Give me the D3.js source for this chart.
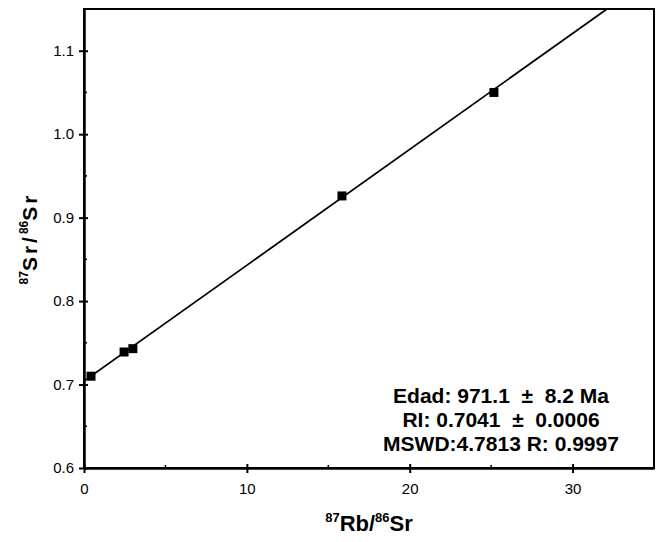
<!DOCTYPE html>
<html>
<head>
<meta charset="utf-8">
<script src="https://cdn.jsdelivr.net/npm/d3@7"></script>
<style>
  html, body { margin: 0; padding: 0; background: #fff; }
  svg { display: block; font-family: "Liberation Sans", Arial, sans-serif; }
</style>
</head>
<body>
<div id="chart"></div>
<script>
// Rb-Sr isochron data
const rbSr = [0.43, 2.46, 3.0, 15.84, 25.17];
const srSr = [0.710, 0.739, 0.743, 0.926, 1.050];

const xTicks = [0, 10, 20, 30];
const xMinor = [5, 15, 25];
const yTicks = [0.6, 0.7, 0.8, 0.9, 1.0, 1.1];
const yMinor = [0.65, 0.75, 0.85, 0.95, 1.05];

// regression line (initial ratio + slope from age)
const intercept = 0.7041;
const slope = 0.013885;

const infoLines = [
  'Edad: 971.1  \u00b1  8.2 Ma',
  'RI: 0.7041  \u00b1  0.0006',
  'MSWD:4.7813 R: 0.9997'
];

const width = 658, height = 542;
const margin = { top: 9, right: 4, bottom: 74, left: 84 };

const svg = d3.select('#chart').append('svg')
  .attr('width', width)
  .attr('height', height);

const x = d3.scaleLinear().domain([0, 35]).range([margin.left, width - margin.right]);
const y = d3.scaleLinear().domain([0.6, 1.15]).range([height - margin.bottom, margin.top]);

svg.append('clipPath').attr('id', 'plot-clip')
  .append('rect')
  .attr('x', x(0)).attr('y', y(1.15))
  .attr('width', x(35) - x(0)).attr('height', y(0.6) - y(1.15));

// Frame (top / right)
svg.append('rect')
  .attr('x', x(0)).attr('y', y(1.15))
  .attr('width', x(35) - x(0)).attr('height', y(0.6) - y(1.15))
  .attr('fill', 'none').attr('stroke', '#000').attr('stroke-width', 2);

// Axes
const xAxis = svg.append('g')
  .attr('transform', `translate(0,${y(0.6)})`)
  .call(d3.axisBottom(x).tickValues(xTicks).tickFormat(d3.format('d')).tickSizeInner(5).tickSizeOuter(0).tickPadding(10));
xAxis.select('.domain').attr('stroke-width', 2.5);
xAxis.selectAll('.tick line').attr('y1', -4).attr('stroke-width', 2);
xAxis.selectAll('.tick text').attr('font-size', 15).attr('fill', '#000');

svg.append('g').selectAll('line').data(xMinor).join('line')
  .attr('x1', d => x(d)).attr('x2', d => x(d))
  .attr('y1', y(0.6) - 3).attr('y2', y(0.6))
  .attr('stroke', '#000').attr('stroke-width', 1.5);

const yAxis = svg.append('g')
  .attr('transform', `translate(${x(0)},0)`)
  .call(d3.axisLeft(y).tickValues(yTicks).tickFormat(d3.format('.1f')).tickSizeInner(5).tickSizeOuter(0).tickPadding(5));
yAxis.select('.domain').attr('stroke-width', 2.5);
yAxis.selectAll('.tick line').attr('x1', 4).attr('stroke-width', 2);
yAxis.selectAll('.tick text').attr('font-size', 15).attr('fill', '#000');

svg.append('g').selectAll('line').data(yMinor).join('line')
  .attr('x1', x(0)).attr('x2', x(0) + 3)
  .attr('y1', d => y(d)).attr('y2', d => y(d))
  .attr('stroke', '#000').attr('stroke-width', 1.5);

// Isochron line
const xEnd = 35;
svg.append('line')
  .attr('clip-path', 'url(#plot-clip)')
  .attr('x1', x(0)).attr('y1', y(intercept))
  .attr('x2', x(xEnd)).attr('y2', y(intercept + slope * xEnd))
  .attr('stroke', '#000').attr('stroke-width', 1.8);

// Points
const pts = rbSr.map((v, i) => ({ x: v, y: srSr[i] }));
const s = 9;
svg.append('g').selectAll('rect').data(pts).join('rect')
  .attr('x', d => x(d.x) - s / 2).attr('y', d => y(d.y) - s / 2)
  .attr('width', s).attr('height', s)
  .attr('fill', '#000');

// Info text
svg.append('g').attr('font-weight', 'bold').attr('font-size', 21)
  .selectAll('text').data(infoLines).join('text')
  .attr('x', 501).attr('y', (d, i) => 403 + i * 24)
  .attr('text-anchor', 'middle')
  .attr('xml:space', 'preserve')
  .style('white-space', 'pre')
  .text(d => d);

// X label
const xl = svg.append('text')
  .attr('x', (x(0) + x(35)) / 2).attr('y', 531)
  .attr('text-anchor', 'middle').attr('font-weight', 'bold').attr('font-size', 22);
xl.append('tspan').attr('font-size', 13).attr('dy', -9).text('87');
xl.append('tspan').attr('dy', 9).text('Rb/');
xl.append('tspan').attr('font-size', 13).attr('dy', -9).text('86');
xl.append('tspan').attr('dy', 9).text('Sr');

// Y label
const yl = svg.append('text')
  .attr('transform', `translate(37,${(y(0.6) + y(1.15)) / 2}) rotate(-90)`)
  .attr('text-anchor', 'middle').attr('font-weight', 'bold').attr('font-size', 21);
yl.append('tspan').attr('font-size', 12).attr('dy', -9).text('87');
yl.append('tspan').attr('dy', 9).attr('letter-spacing', 3).text('Sr/');
yl.append('tspan').attr('font-size', 12).attr('dy', -9).text('86');
yl.append('tspan').attr('dy', 9).attr('letter-spacing', 3).text('Sr');
</script>
</body>
</html>
